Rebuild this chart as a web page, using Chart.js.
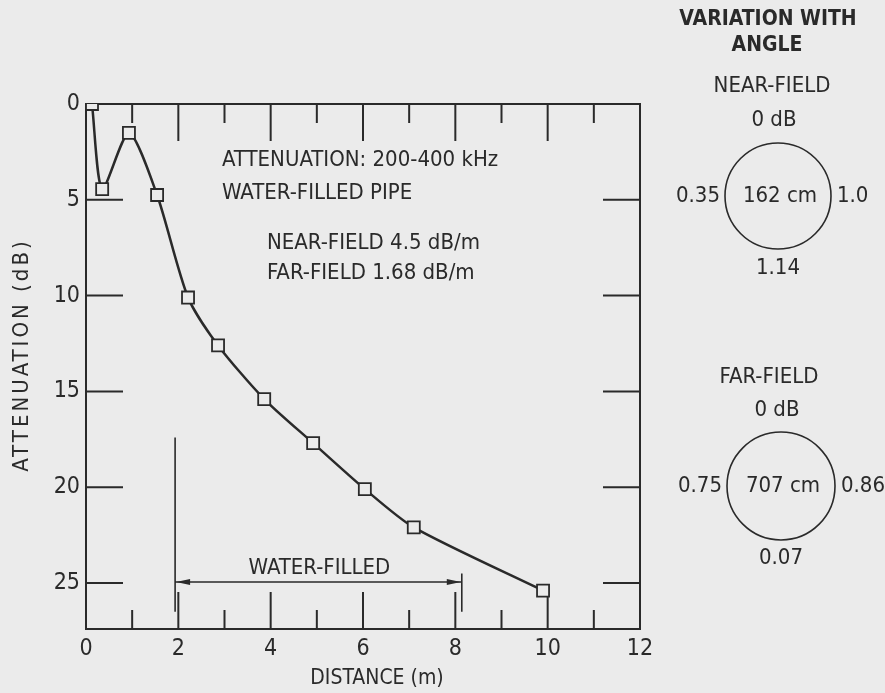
<!DOCTYPE html>
<html>
<head>
<meta charset="utf-8">
<script src="https://cdn.jsdelivr.net/npm/chart.js@4/dist/chart.umd.min.js"></script>
<style>
  html, body { margin: 0; padding: 0; background: #ebebeb; }
</style>
</head>
<body>
<canvas id="chart" width="885" height="693"></canvas>
<script>
// measured points (distance in m, attenuation in dB)
const distance = [0.13, 0.35, 0.93, 1.54, 2.21, 2.86, 3.86, 4.92, 6.04, 7.1, 9.9];
const attenuation = [0, 4.44, 1.51, 4.75, 10.1, 12.6, 15.4, 17.7, 20.1, 22.1, 25.4];

const xTicks = [0, 2, 4, 6, 8, 10, 12];
const xMarks = [1, 2, 3, 4, 5, 6, 7, 8, 9, 10, 11];
const yTicks = [0, 5, 10, 15, 20, 25];

const notes = ["ATTENUATION: 200-400 kHz", "WATER-FILLED PIPE", "NEAR-FIELD 4.5 dB/m", "FAR-FIELD 1.68 dB/m"];
const waterFilled = [1.93, 8.14];

const nearField = { top: "0 dB", left: "0.35", mid: "162 cm", right: "1.0", bottom: "1.14" };
const farField = { top: "0 dB", left: "0.75", mid: "707 cm", right: "0.86", bottom: "0.07" };

const INK = '#2a2a2a';
const BG = '#ebebeb';
const FONT = "'Liberation Sans Narrow', 'DejaVu Sans Condensed', 'Liberation Sans', sans-serif";

// frame with inward ticks, like the original plot
const frameTicks = {
  id: 'frameTicks',
  beforeDatasetsDraw(chart) {
    const { ctx, chartArea: a, scales: { x, y } } = chart;
    ctx.save();
    ctx.strokeStyle = INK;
    ctx.lineWidth = 2;
    ctx.strokeRect(a.left, a.top, a.right - a.left, a.bottom - a.top);
    ctx.beginPath();
    xMarks.forEach(v => {
      const len = v % 2 === 0 ? 37 : 19;
      const px = x.getPixelForValue(v);
      ctx.moveTo(px, a.bottom); ctx.lineTo(px, a.bottom - len);
      ctx.moveTo(px, a.top); ctx.lineTo(px, a.top + len);
    });
    yTicks.filter(v => v > 0).forEach(v => {
      const py = y.getPixelForValue(v);
      ctx.moveTo(a.left, py); ctx.lineTo(a.left + 37, py);
      ctx.moveTo(a.right, py); ctx.lineTo(a.right - 37, py);
    });
    ctx.stroke();

    // water-filled span
    const x1 = x.getPixelForValue(waterFilled[0]);
    const x2 = x.getPixelForValue(waterFilled[1]);
    const ya = y.getPixelForValue(24.95);
    ctx.lineWidth = 1.6;
    ctx.beginPath();
    ctx.moveTo(x1, y.getPixelForValue(17.4)); ctx.lineTo(x1, y.getPixelForValue(26.5));
    ctx.moveTo(x2, y.getPixelForValue(24.5)); ctx.lineTo(x2, y.getPixelForValue(26.5));
    ctx.moveTo(x1, ya); ctx.lineTo(x2, ya);
    ctx.stroke();
    ctx.fillStyle = INK;
    ctx.beginPath();
    ctx.moveTo(x1 + 1, ya); ctx.lineTo(x1 + 15, ya - 3); ctx.lineTo(x1 + 15, ya + 3); ctx.closePath();
    ctx.moveTo(x2 - 1, ya); ctx.lineTo(x2 - 15, ya - 3); ctx.lineTo(x2 - 15, ya + 3); ctx.closePath();
    ctx.fill();
    ctx.font = '22px ' + FONT;
    ctx.textAlign = 'center';
    ctx.textBaseline = 'middle';
    ctx.fillText('WATER-FILLED', (x1 + x2) / 2 + 1, ya - 14);
    ctx.restore();
  },
  afterDraw(chart) {
    const { ctx } = chart;
    ctx.save();
    ctx.fillStyle = INK;
    ctx.strokeStyle = INK;
    ctx.font = '22px ' + FONT;
    ctx.textBaseline = 'middle';

    // notes inside the plot
    ctx.textAlign = 'left';
    ctx.fillText(notes[0], 222, 160);
    ctx.fillText(notes[1], 222, 193);
    ctx.fillText(notes[2], 267, 243);
    ctx.fillText(notes[3], 267, 273);

    // axis titles
    ctx.textAlign = 'center';
    ctx.font = '21px ' + FONT;
    ctx.fillText('DISTANCE (m)', 377, 679);
    ctx.save();
    ctx.translate(22, 355);
    ctx.rotate(-Math.PI / 2);
    ctx.font = '22px ' + FONT;
    ctx.letterSpacing = '3px';
    ctx.fillText('ATTENUATION (dB)', 0, 0);
    ctx.restore();

    // variation with angle panel
    ctx.font = 'bold 21px ' + FONT;
    ctx.fillText('VARIATION WITH', 768, 20);
    ctx.fillText('ANGLE', 767, 46);
    ctx.font = '22px ' + FONT;
    ctx.fillText('NEAR-FIELD', 772, 86);
    ctx.fillText('FAR-FIELD', 769, 377);

    const drawRing = (d, cx, cy, r) => {
      ctx.lineWidth = 1.6;
      ctx.beginPath();
      ctx.arc(cx, cy, r, 0, Math.PI * 2);
      ctx.stroke();
      ctx.textAlign = 'center';
      ctx.fillText(d.top, cx - 4, cy - 76);
      ctx.fillText(d.mid, cx + 2, cy);
      ctx.fillText(d.bottom, cx, cy + 72);
      ctx.textAlign = 'right';
      ctx.fillText(d.left, cx - r - 5, cy);
      ctx.textAlign = 'left';
      ctx.fillText(d.right, cx + r + 6, cy);
    };
    drawRing(nearField, 778, 196, 53);
    drawRing(farField, 781, 486, 54);
    ctx.restore();
  }
};

new Chart(document.getElementById('chart'), {
  type: 'scatter',
  data: {
    datasets: [{
      data: distance.map((d, i) => ({ x: d, y: attenuation[i] })),
      showLine: true,
      borderColor: INK,
      borderWidth: 2.5,
      tension: 0.25,
      pointStyle: 'rect',
      pointRadius: 8.5,
      pointBorderWidth: 1.8,
      pointBackgroundColor: BG,
      pointBorderColor: INK
    }]
  },
  options: {
    responsive: false,
    devicePixelRatio: 1,
    animation: false,
    layout: { padding: { left: 0, top: 104, right: 245, bottom: 0 } },
    plugins: { legend: { display: false }, tooltip: { enabled: false } },
    scales: {
      x: {
        type: 'linear',
        min: 0,
        max: 12,
        grid: { display: false, drawTicks: false },
        border: { display: false },
        afterBuildTicks: s => { s.ticks = xTicks.map(v => ({ value: v })); },
        afterFit: s => { s.height = 64; },
        ticks: { color: INK, padding: 6, maxRotation: 0, font: { family: FONT, size: 23 } }
      },
      y: {
        type: 'linear',
        reverse: true,
        min: 0,
        max: 27.4,
        grid: { display: false, drawTicks: false },
        border: { display: false },
        afterBuildTicks: s => { s.ticks = yTicks.map(v => ({ value: v })); },
        afterFit: s => { s.width = 86; },
        ticks: { color: INK, padding: 6, font: { family: FONT, size: 23 } }
      }
    }
  },
  plugins: [frameTicks]
});
</script>
</body>
</html>
